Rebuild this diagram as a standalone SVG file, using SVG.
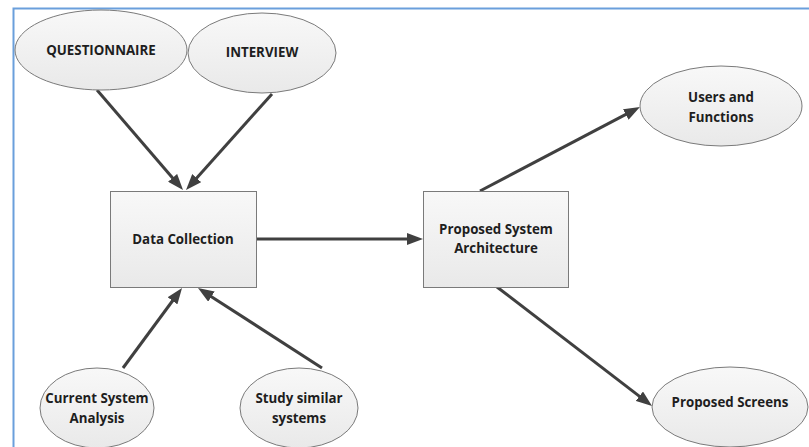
<svg xmlns="http://www.w3.org/2000/svg" width="809" height="447" viewBox="0 0 809 447">
<defs>
<linearGradient id="g" x1="0" y1="0" x2="0" y2="1">
<stop offset="0" stop-color="#f8f8f8"/>
<stop offset="1" stop-color="#e9e9e9"/>
</linearGradient>
<marker id="ah" viewBox="0 0 16 12" refX="6" refY="6" markerWidth="16" markerHeight="12" markerUnits="userSpaceOnUse" orient="auto">
<path d="M0,0 L16,6 L0,12 z" fill="#404040"/>
</marker>
</defs>
<style>
.n{fill:url(#g);stroke:#7a7a7a;stroke-width:1}
.t{font-family:"Open Sans","Liberation Sans",sans-serif;font-weight:bold;font-size:13.3px;fill:#1e1e1e;text-anchor:middle}
.c{stroke:#404040;stroke-width:3;fill:none;marker-end:url(#ah)}
</style>
<rect width="809" height="447" fill="#ffffff"/>
<rect x="13.5" y="8.5" width="820" height="460" fill="none" stroke="#6a9fdc" stroke-width="2"/>
<g id="connectors">
<line class="c" x1="97" y1="90" x2="176.5" y2="182.4"/>
<line class="c" x1="272" y1="94" x2="192.7" y2="182.5"/>
<line class="c" x1="123" y1="368" x2="176.1" y2="296"/>
<line class="c" x1="322" y1="368" x2="206.4" y2="293.4"/>
<line class="c" x1="256" y1="239" x2="413" y2="239"/>
<line class="c" x1="480" y1="191" x2="631.1" y2="111.7"/>
<line class="c" x1="497" y1="287" x2="644.1" y2="399.9"/>
</g>
<g id="questionnaire">
<ellipse class="n" cx="101" cy="50" rx="86" ry="40"/>
<text class="t" x="101" y="55">QUESTIONNAIRE</text>
</g>
<g id="interview">
<ellipse class="n" cx="262" cy="53" rx="74" ry="40"/>
<text class="t" x="262" y="57">INTERVIEW</text>
</g>
<g id="data-collection">
<rect class="n" x="110.5" y="191.5" width="146" height="96"/>
<text class="t" x="183" y="244">Data Collection</text>
</g>
<g id="proposed-system-architecture">
<rect class="n" x="423.5" y="191.5" width="145" height="96"/>
<text class="t" x="496" y="234">Proposed System</text>
<text class="t" x="496" y="253">Architecture</text>
</g>
<g id="users-functions">
<ellipse class="n" cx="721" cy="106" rx="81" ry="40"/>
<text class="t" x="721" y="102">Users and</text>
<text class="t" x="721" y="122">Functions</text>
</g>
<g id="proposed-screens">
<ellipse class="n" cx="730" cy="407" rx="78" ry="40"/>
<text class="t" x="730" y="407">Proposed Screens</text>
</g>
<g id="current-system-analysis">
<ellipse class="n" cx="97" cy="408" rx="57" ry="40"/>
<text class="t" x="97" y="403">Current System</text>
<text class="t" x="97" y="423">Analysis</text>
</g>
<g id="study-similar-systems">
<ellipse class="n" cx="299" cy="408" rx="59" ry="40"/>
<text class="t" x="299" y="403">Study similar</text>
<text class="t" x="299" y="423">systems</text>
</g>
</svg>
